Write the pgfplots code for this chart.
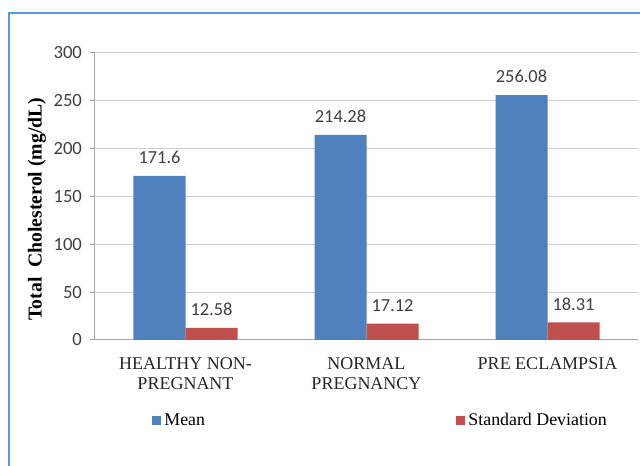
\documentclass[border=0pt]{standalone}
\usepackage{pgfplots}
\pgfplotsset{compat=1.18}
\usepackage{fontspec}
\setmainfont{Liberation Serif}
\newfontfamily\calibri{Carlito}
\definecolor{meanblue}{HTML}{4F81BD}
\definecolor{sdred}{HTML}{C0504D}
\definecolor{framebl}{HTML}{5B9BD5}
\definecolor{gridgray}{HTML}{D0D0D0}
\definecolor{axisgray}{HTML}{A6A6A6}
\definecolor{txtgray}{HTML}{404040}

\begin{document}
\begin{tikzpicture}
\path[use as bounding box] (0,0) rectangle (480pt,349.5pt);
% outer chart frame (left and top edges)
\draw[framebl, line width=1.5pt] (6.5pt,0) -- (6.5pt,339.4pt) -- (480pt,339.4pt);
\begin{axis}[
  at={(71.25pt,94.5pt)}, anchor=south west,
  scale only axis, width=407.25pt, height=215.25pt,
  ybar=0pt, bar width=39pt,
  xmin=-0.5, xmax=2.5, ymin=0, ymax=300,
  ytick={0,50,...,300},
  xtick=data,
  xticklabels={HEALTHY NON-\\PREGNANT, NORMAL\\PREGNANCY, PRE ECLAMPSIA},
  x tick label style={align=center, font=\fontsize{13.5}{14.6}\selectfont, text=black!85, yshift=-6pt},
  major x tick style={draw=none},
  ymajorgrids, grid style={gridgray, line width=0.75pt},
  axis x line*=bottom, axis y line*=left,
  axis line style={axisgray, line width=0.75pt, -},
  x axis line style={-}, y axis line style={-},
  y tick style={axisgray, line width=0.75pt},
  tick align=outside, major tick length=3.75pt,
  yticklabel style={font=\calibri\fontsize{14}{16}\selectfont, text=txtgray, xshift=-2.5pt},
  /pgf/number format/.cd, fixed, precision=2, assume math mode=true, /pgfplots/.cd,
  nodes near coords,
  nodes near coords style={font=\calibri\fontsize{13.8}{16}\selectfont, text=txtgray, yshift=5.5pt},
  ylabel={\textbf{Total\ \ Cholesterol (mg/dL)}},
  ylabel style={at={(axis description cs:-0.1068,0.456)}, anchor=center, font=\fontsize{14.8}{17}\selectfont},
  legend columns=2,
  legend style={at={(axis description cs:0.104,-0.281)}, anchor=west, draw=none, fill=none,
    inner sep=0pt, font=\fontsize{13.4}{15}\selectfont,
    nodes={inner sep=2.5pt},
    /tikz/every even column/.append style={column sep=185.5pt}},
  legend image code/.code={\fill[#1,draw=none] (0pt,-3.5pt) rectangle (7pt,3.5pt);},
]
\addplot[fill=meanblue, draw=none] coordinates {(0,171.6) (1,214.28) (2,256.08)};
\addplot[fill=sdred, draw=none] coordinates {(0,12.58) (1,17.12) (2,18.31)};
\legend{Mean, Standard Deviation}
\end{axis}
\end{tikzpicture}
\end{document}
